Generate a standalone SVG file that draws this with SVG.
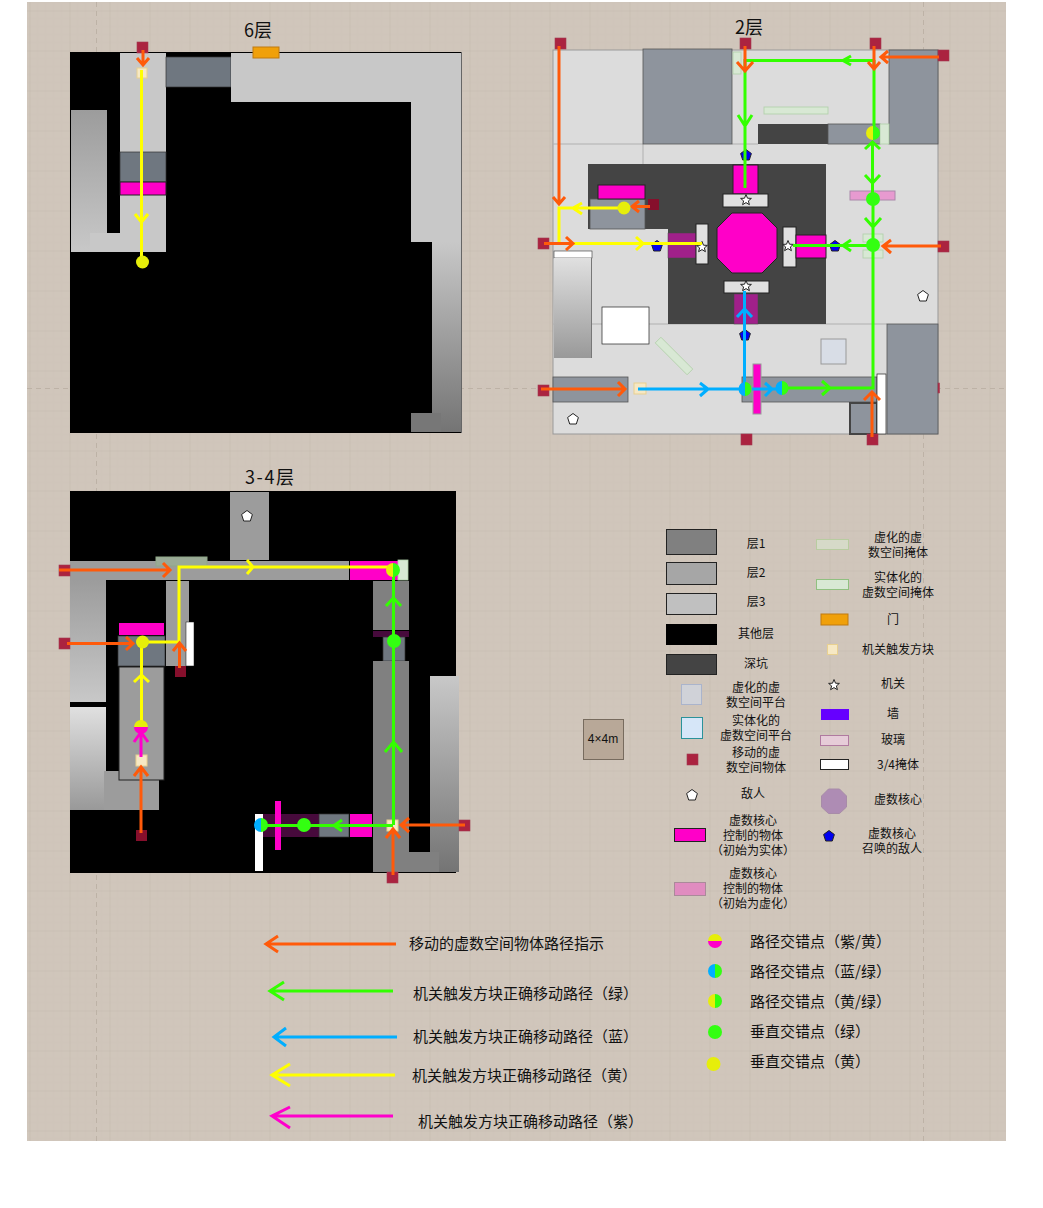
<svg xmlns="http://www.w3.org/2000/svg" width="1043" height="1208" viewBox="0 0 1043 1208">
<style>
text{font-family:"Noto Sans CJK SC","Noto Sans",sans-serif;fill:#111;font-size:12px;text-anchor:middle;dominant-baseline:central;transform:translateY(-1px)}
.t{font-size:18px;transform:translateY(-2px)}.l{font-size:15px;text-anchor:start;transform:translateY(-2px)}
.p{fill:none;stroke-width:3}
.o{stroke:#ff5a0a}.g{stroke:#33ff00}.b{stroke:#00aeff}.y{stroke:#ffff00}.m{stroke:#ff00cc}
.pm{fill:#ff00c8}.sl{fill:#6f7780;stroke:#333;stroke-width:.7}.gy{fill:#8e949d;stroke:#555;stroke-width:.8}
.f2{fill:#9c9c9c}.f1{fill:#808080}.f3{fill:#c8c8c8}
.red{fill:#ab2340;stroke:#a03a50;stroke-width:.6}.drk{fill:#860f2c}
.trg{fill:#f6e8c4;stroke:#e8d090}
.v{fill:#d8e8d4;stroke:#b0cfa8;stroke-width:.8}
.wb{fill:#e0e0e0;stroke:#222}.wh{fill:#fff;stroke:#222;stroke-width:.7}
.pur{fill:#a0208a;stroke:#444;stroke-width:.5}.dp{fill:#470a3c}
.st{fill:#fff;stroke:#222;stroke-width:1}
.en{fill:#fff;stroke:#222;stroke-width:1}.ben{fill:#0000f0;stroke:#222;stroke-width:1}
.dy{fill:#e6ee0a}.dg{fill:#33ff11}.db{fill:#00aeff}.dm{fill:#ff00c8}
.k{stroke:#222;stroke-width:1}
</style>
<defs>
<pattern id="grid" x="29.5" y="10.5" width="40" height="40" patternUnits="userSpaceOnUse">
<path d="M8 0V40M16 0V40M24 0V40M32 0V40M0 8H40M0 16H40M0 24H40M0 32H40" stroke="#cdc3b8" stroke-width=".6" fill="none"/>
<path d="M0 0V40M0 0H40" stroke="#c4baaf" stroke-width="1.200" fill="none"/>
</pattern>
<linearGradient id="gA" x1="0" y1="0" x2="0" y2="1"><stop offset="0" stop-color="#9c9c9c"/><stop offset="1" stop-color="#c8c8c8"/></linearGradient>
<linearGradient id="gB" x1="0" y1="0" x2="0" y2="1"><stop offset="0" stop-color="#c8c8c8"/><stop offset="1" stop-color="#747474"/></linearGradient>
<linearGradient id="gC" x1="0" y1="0" x2="0" y2="1"><stop offset="0" stop-color="#e0e0e0"/><stop offset="1" stop-color="#999"/></linearGradient>
<path id="star" d="M0-5.500 1.500-1.800 5.400-1.600 2.400.9 3.400 4.700 0 2.600-3.400 4.700-2.400.9-5.400-1.600-1.500-1.800Z"/>
<path id="pent" d="M0-5.500 5.400-1.500 3.300 5H-3.300L-5.400-1.500Z"/>
</defs>
<rect x="27" y="2" width="979" height="1139" fill="#d0c6bb"/>
<rect x="27" y="2" width="979" height="1139" fill="url(#grid)"/>
<path d="M96.500 2V1141M923.500 2V1141M27 388.500H1006" stroke="#bdb2a6" stroke-dasharray="5 4" fill="none"/>

<g id="title-6"><text class="t" x="258" y="31">6层</text></g>
<g id="title-2"><text class="t" x="749" y="28">2层</text></g>
<g id="title-34"><text class="t" x="269.500" y="478" textLength="49" lengthAdjust="spacing">3-4层</text></g>

<g id="map-6">
<rect x="70" y="52" width="391" height="381" fill="#000"/>
<rect class="f3" x="120" y="53" width="46" height="199"/>
<rect x="166" y="57" width="65" height="30" class="sl"/>
<path class="f3" d="M231 53H461V242H411V102H231Z"/>
<rect x="432" y="242" width="29" height="190" fill="url(#gB)"/>
<rect x="411" y="413" width="30" height="19" fill="#777"/>
<path d="M461.500 52V433" stroke="#666" fill="none"/>
<rect x="71" y="110" width="36" height="142" fill="url(#gA)"/>
<rect class="f3" x="90" y="233" width="30" height="19"/>
<rect x="120" y="152" width="46" height="30" class="sl"/>
<rect x="120" y="182" width="46" height="13" class="pm k" stroke-width=".6"/>
<rect x="253" y="47" width="26" height="11" fill="#f0a00a" stroke="#c07a10"/>
<rect class="red" x="137" y="42" width="11" height="11"/>
<rect class="trg" x="137" y="68" width="10" height="10"/>
</g>

<g id="map-2">
<rect x="553" y="50" width="385" height="384" fill="#dcdcdc" stroke="#999"/>
<path d="M553 144H643V164M553 324H887M732 144H758" stroke="#b0b0b0" fill="none"/>
<rect class="gy" x="643" y="49" width="89" height="95"/>
<rect class="gy" x="889" y="50" width="49" height="94"/>
<rect x="758" y="124" width="70" height="20" fill="#444"/>
<rect class="gy" x="828" y="124" width="52" height="20"/>
<rect class="v" x="880" y="124" width="9" height="20"/>
<rect class="v" x="733" y="52" width="8" height="22"/>
<rect class="v" x="764" y="107" width="64" height="7"/>
<path fill="#444" d="M588 164H826V324H668V229H588Z"/>
<rect class="gy" x="590" y="199" width="55" height="30" stroke="#222"/>
<rect class="pm k" x="598" y="185" width="47" height="14"/>
<rect class="drk" x="648" y="199" width="11" height="11"/>
<rect class="pm k" x="733" y="165" width="25" height="29"/>
<rect class="wb" x="723" y="194" width="45" height="13"/>
<path class="pm k" d="M732 213H762L777 228V258L762 273H732L717 258V228Z"/>
<rect class="pur" x="668" y="233" width="28" height="25"/>
<rect class="wb" x="696" y="224" width="12" height="40"/>
<rect class="wb" x="783" y="227" width="13" height="40"/>
<rect class="pm k" x="796" y="235" width="30" height="23"/>
<rect class="wb" x="724" y="281" width="45" height="12"/>
<rect class="pur" x="734" y="294" width="24" height="30"/>
<rect x="850" y="191" width="45" height="9" fill="#e79ad0" stroke="#a8a"/>
<rect class="v" x="863" y="234" width="20" height="8"/>
<rect class="v" x="863" y="250" width="20" height="8"/>
<rect x="554" y="251" width="38" height="7" fill="#fff" stroke="#333" stroke-width=".6"/>
<rect x="554" y="258" width="37" height="100" fill="url(#gC)"/>
<path d="M591.500 258V358" stroke="#777" fill="none"/>
<rect class="wh" x="602" y="307" width="47" height="37"/>
<rect class="v" x="651.500" y="352" width="45" height="8" transform="rotate(45 674 356)"/>
<rect x="821" y="339" width="25" height="25" fill="#d8dde6" stroke="#999"/>
<rect class="gy" x="553" y="377" width="75" height="25"/>
<rect class="trg" x="634" y="383" width="12" height="11"/>
<rect class="gy" x="742" y="377" width="135" height="25"/>
<rect x="753" y="364" width="8" height="50" fill="#ff00c8" stroke="#999"/>
<rect x="850" y="403" width="27" height="31" fill="#8e949d" stroke="#444" stroke-width="2"/>
<rect class="wh" x="877" y="374" width="9" height="60"/>
<rect class="gy" x="887" y="324" width="51" height="110" stroke="#222"/>
<rect class="red" x="555" y="38" width="11" height="11"/>
<rect class="red" x="740" y="38" width="11" height="11"/>
<rect class="red" x="870" y="38" width="11" height="11"/>
<rect class="red" x="938" y="50" width="11" height="11"/>
<rect class="red" x="538" y="238" width="11" height="11"/>
<rect class="red" x="938" y="241" width="11" height="11"/>
<rect class="red" x="538" y="385" width="11" height="11"/>
<rect class="red" x="741" y="434" width="11" height="11"/>
<rect class="red" x="867" y="434" width="11" height="11"/>
<rect class="red" x="938" y="383" width="1.500" height="10"/>
<use href="#star" class="st" x="746" y="200"/>
<use href="#star" class="st" x="702" y="247"/>
<use href="#star" class="st" x="788" y="246"/>
<use href="#star" class="st" x="746" y="286"/>
<use href="#pent" class="ben" x="746" y="155"/>
<use href="#pent" class="ben" x="657" y="246"/>
<use href="#pent" class="ben" x="835" y="246"/>
<use href="#pent" class="ben" x="745" y="335"/>
<use href="#pent" class="en" x="923" y="296"/>
<use href="#pent" class="en" x="573" y="419"/>
</g>

<g id="map-34">
<rect x="70" y="491" width="386" height="382" fill="#000"/>
<rect class="f2" x="230" y="492" width="39" height="68"/>
<rect class="f2" x="70" y="561" width="279" height="19"/>
<rect class="pm" x="350" y="561" width="48" height="19"/>
<rect class="v" x="398" y="560" width="10" height="20" stroke="#8a8"/>
<rect x="156" y="557" width="51" height="9" fill="#9aaa96" stroke="#8fa888"/>
<rect x="70" y="580" width="36" height="122" fill="url(#gA)"/>
<rect x="70" y="707" width="36" height="103" fill="url(#gC)"/>
<rect class="f2" x="104" y="771" width="55" height="39"/>
<rect class="f2 k" x="119" y="667" width="45" height="113"/>
<rect class="sl" x="118" y="636" width="47" height="30"/>
<rect class="pm" x="119" y="623" width="45" height="12"/>
<rect class="f2" x="166" y="581" width="23" height="85"/>
<rect x="186" y="622" width="8" height="44" fill="#fff" stroke="#111" stroke-width=".5"/>
<rect class="drk" x="175" y="666" width="11" height="11"/>
<rect class="red" x="59" y="565" width="11" height="11"/>
<rect class="red" x="59" y="638" width="11" height="11"/>
<rect class="drk" x="136" y="830" width="11" height="11"/>
<rect class="f1" x="373" y="581" width="36" height="49"/>
<rect class="dp" x="373" y="631" width="36" height="6"/>
<rect class="sl" x="383" y="637" width="22" height="24"/>
<rect class="f1" x="373" y="661" width="36" height="211"/>
<rect x="430" y="676" width="29" height="196" fill="url(#gB)"/>
<rect class="f1" x="409" y="852" width="30" height="20"/>
<rect class="dp" x="263" y="814" width="56" height="23"/>
<rect class="sl" x="319" y="814" width="30" height="23"/>
<rect class="pm" x="350" y="814" width="22" height="23"/>
<rect x="255" y="814" width="8" height="57" fill="#fff"/>
<rect class="pm" x="275" y="801" width="6" height="49"/>
<rect class="red" x="459" y="820" width="11" height="11"/>
<rect class="red" x="387" y="872" width="11" height="11"/>
<rect class="trg" x="136" y="755" width="11" height="11"/>
<rect class="trg" x="387" y="820" width="11" height="11"/>
<use href="#pent" class="en" x="247" y="516"/>
</g>

<g id="connectors">
<path class="p o" d="M143 50V65M137 58 143 65 149 58"/>
<path class="p y" d="M141.500 70V260M135 214 141.500 222 148 214"/>

<path class="p g" d="M874 60.500H745V188M851 56 843 60.500 851 65M738 115 745 126 752 115"/>
<path class="p g" d="M874 60V133M872.500 143V199M865 149 872.500 142 880 149M865 175 872.500 183 880 175M873 199V388H778M865 218 873 227 881 218M851 240 843 245.500 851 251M873 245.500H793M822 381 830 388 822 395"/>
<path class="p y" d="M624 208H559V243.500H702M582 203 573 208 582 214M636 237 643 243.500 636 250"/>
<path class="p b" d="M638 389H745M700 383 708 389 700 396M752 389H778M765 383 772 389 765 396M744.500 389V291M737 317 744.500 309 752 317"/>
<path class="p o" d="M559 46V204M553 197 559 204 565 197"/>
<path class="p o" d="M745 46V70M737 62 745 71 753 62"/>
<path class="p o" d="M874 46V69M868 62 874 69 880 62"/>
<path class="p o" d="M939 57H881M888 51 881 57 888 63"/>
<path class="p o" d="M650 206.500H632M639 201 632 206.500 639 212"/>
<path class="p o" d="M544 243.500H573M566 237 573 243.500 566 250"/>
<path class="p o" d="M941 246H883M891 240 883 246 891 253"/>
<path class="p o" d="M541 389H625M618 382 625 389 618 396"/>
<path class="p o" d="M872 437V392M864 400 872 392 880 400"/>

<path class="p y" d="M141.500 727V642H179V567H393M134 682 141.500 675 149 682M247 560 253 567 247 574"/>
<path class="p g" d="M393.500 825V570M385 752 393.500 742 402 752M386 606 393.500 598 401 606M393 825.500H262M342 820 334 825.500 342 831"/>
<path class="p m" d="M141 757V733M134 742 141 732 148 742"/>
<path class="p o" d="M59 570H170M163 563 170 570 163 577"/>
<path class="p o" d="M67 643.500H133M126 637 133 643.500 126 650"/>
<path class="p o" d="M179.500 668V643M173 651 179.500 643 186 651"/>
<path class="p o" d="M141 833V767M134 776 141 767 148 776"/>
<path class="p o" d="M465 825H401M409 818 401 825 409 832"/>
<path class="p o" d="M393 875V829M386 838 393 829 400 838"/>
</g>

<g id="dots">
<circle class="dy" cx="142.500" cy="262" r="6.500"/>
<circle class="dy" cx="624" cy="208" r="6.500"/>
<circle class="dg" cx="873" cy="199" r="7"/>
<circle class="dg" cx="873" cy="245" r="7"/>
<path class="dy" d="M873 126A7 7 0 0 0 873 140Z"/><path class="dg" d="M873 126A7 7 0 0 1 873 140Z"/>
<path class="db" d="M745 382A6.500 7 0 0 0 745 396Z"/><path class="dg" d="M745 382A6.500 7 0 0 1 745 396Z"/>
<path class="db" d="M782 381A6.500 7 0 0 0 782 395Z"/><path class="dg" d="M782 381A6.500 7 0 0 1 782 395Z"/>
<circle class="dy" cx="142.500" cy="642" r="6.500"/>
<path class="dy" d="M134 727A7 7 0 0 1 148 727Z"/><path class="dm" d="M134 727A7 7 0 0 0 148 727Z"/>
<path class="dy" d="M393 563A7 7 0 0 0 393 577Z"/><path class="dg" d="M393 563A7 7 0 0 1 393 577Z"/>
<circle class="dg" cx="394" cy="641" r="7"/>
<circle class="dg" cx="304" cy="825" r="7"/>
<path class="db" d="M261 818A7 7 0 0 0 261 832Z"/><path class="dg" d="M261 818A7 7 0 0 1 261 832Z"/>
</g>

<g id="scale"><rect x="583.500" y="719.500" width="40" height="40" fill="#b8a898" stroke="#776b5e"/><text x="603" y="740" style="font-family:'Liberation Sans',sans-serif">4×4m</text></g>

<g id="legend-left">
<rect x="666.500" y="529.500" width="50" height="25" fill="#808080" stroke="#222"/><text x="756" y="543.500">层1</text>
<rect x="666.500" y="562.500" width="50" height="22" fill="#a6a6a6" stroke="#222"/><text x="756" y="572.500">层2</text>
<rect x="666.500" y="593.500" width="50" height="21" fill="#c0c0c0" stroke="#222"/><text x="756" y="601.500">层3</text>
<rect x="666" y="624" width="51" height="21" fill="#000"/><text x="756" y="633.500">其他层</text>
<rect x="666.500" y="654.500" width="50" height="20" fill="#444" stroke="#222"/><text x="756" y="663.500">深坑</text>
<rect x="681.500" y="684.500" width="20" height="20" fill="#d0d2d8" stroke="#aab4cc"/><text x="756" y="687.500">虚化的虚</text><text x="756" y="702.500">数空间平台</text>
<rect x="681.500" y="717.500" width="21" height="21" fill="#d6e6f8" stroke="#2a929a"/><text x="756" y="720.500">实体化的</text><text x="756" y="735.500">虚数空间平台</text>
<rect class="red" x="687" y="754" width="11" height="11"/><text x="756" y="752.500">移动的虚</text><text x="756" y="767.500">数空间物体</text>
<use href="#pent" class="en" x="692" y="795"/><text x="753" y="793.500">敌人</text>
<rect x="674.500" y="828.500" width="31" height="13" fill="#ff00c8" stroke="#222"/><text x="753" y="820.500">虚数核心</text><text x="753" y="835.500">控制的物体</text><text x="753" y="850.500">（初始为实体）</text>
<rect x="674.500" y="882.500" width="31" height="13" fill="#e08cc0" stroke="#aa8a9a"/><text x="753" y="873.500">虚数核心</text><text x="753" y="888.500">控制的物体</text><text x="753" y="903.500">（初始为虚化）</text>
</g>
<g id="legend-right">
<rect x="816.500" y="539.500" width="32" height="10" fill="#d6dac8" stroke="#b8cca0"/><text x="898" y="537.500">虚化的虚</text><text x="898" y="552.500">数空间掩体</text>
<rect x="816.500" y="579.500" width="32" height="10" fill="#d8e8d4" stroke="#90c080"/><text x="898" y="577.500">实体化的</text><text x="898" y="592.500">虚数空间掩体</text>
<rect x="821" y="614" width="27" height="11" fill="#f0a00a" stroke="#c07a10"/><text x="893" y="619.500">门</text>
<rect class="trg" x="827.500" y="644.500" width="10" height="10"/><text x="898" y="649.500">机关触发方块</text>
<use href="#star" class="st" x="834" y="685"/><text x="893" y="683.500">机关</text>
<rect x="821" y="709" width="28" height="11" fill="#6600ff"/><text x="893" y="713.500">墙</text>
<rect x="820.500" y="735.500" width="28" height="10" fill="#e6ccd8" stroke="#b07aa0"/><text x="893" y="739.500">玻璃</text>
<rect x="820.500" y="759.500" width="28" height="10" fill="#fff" stroke="#222"/><text x="898" y="764.500">3/4掩体</text>
<path d="M828.500 789H839.500L846.500 796V807L839.500 813.500H828.500L821.500 807V796Z" fill="#ae8cb4" stroke="#a88ca8"/><text x="898" y="799.500">虚数核心</text>
<use href="#pent" class="ben" x="829" y="836"/><text x="892" y="833.500">虚数核心</text><text x="892" y="848.500">召唤的敌人</text>
</g>

<g id="legend-paths">
<path class="p o" d="M396 944H266M278 936 266 944 278 952"/><text class="l" x="409" y="944">移动的虚数空间物体路径指示</text>
<path class="p g" d="M393 991H270M284 982 270 991 284 1000"/><text class="l" x="413" y="994">机关触发方块正确移动路径（绿）</text>
<path class="p b" d="M397 1037H274M286 1028 274 1037 286 1046"/><text class="l" x="413" y="1037">机关触发方块正确移动路径（蓝）</text>
<path class="p y" d="M395 1075H272M290 1064 272 1075 290 1086"/><text class="l" x="412" y="1076">机关触发方块正确移动路径（黄）</text>
<path class="p m" d="M393 1116H272M290 1107 272 1116 290 1128"/><text class="l" x="418" y="1122">机关触发方块正确移动路径（紫）</text>
</g>
<g id="legend-dots">
<path class="dy" d="M708 941A7 7 0 0 1 722 941Z"/><path class="dm" d="M708 941A7 7 0 0 0 722 941Z"/><text class="l" x="750" y="942">路径交错点（紫/黄）</text>
<path class="db" d="M715 964A7 7 0 0 0 715 978Z"/><path class="dg" d="M715 964A7 7 0 0 1 715 978Z"/><text class="l" x="750" y="972">路径交错点（蓝/绿）</text>
<path class="dy" d="M715 994A7 7 0 0 0 715 1008Z"/><path class="dg" d="M715 994A7 7 0 0 1 715 1008Z"/><text class="l" x="750" y="1002">路径交错点（黄/绿）</text>
<circle class="dg" cx="715" cy="1032" r="7"/><text class="l" x="750" y="1032">垂直交错点（绿）</text>
<circle class="dy" cx="713.500" cy="1064" r="7"/><text class="l" x="750" y="1062">垂直交错点（黄）</text>
</g>
</svg>
